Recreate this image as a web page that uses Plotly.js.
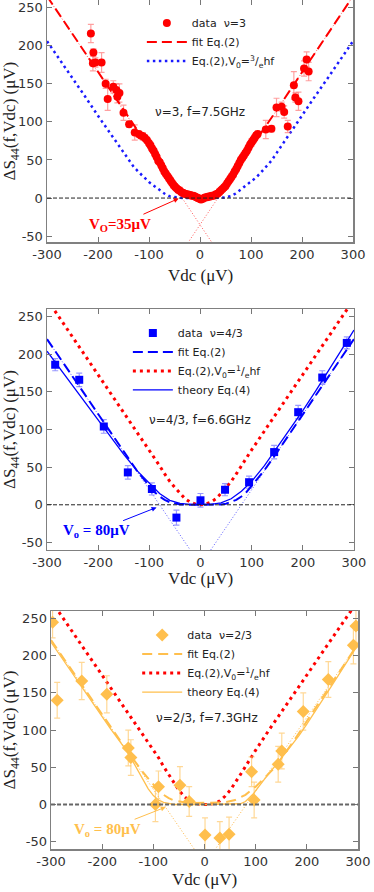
<!DOCTYPE html>
<html>
<head>
<meta charset="utf-8">
<script src="https://cdn.plot.ly/plotly-3.0.1.min.js"></script>
<style>
html, body { margin: 0; padding: 0; background: #fff; }
#chart { width: 374px; height: 892px; }
</style>
</head>
<body>
<div id="chart"></div>
<script>
// ---- panel 1: nu = 3, f = 7.5 GHz ----
var nu3_vdc = [-214,-209,-210,-205,-193,-185,-181,-170,-164,-162,-158,-150,-139,-128,
  -120,-116,-112,-108,-104,-100,
  -97,-94,-91,-88,-85,-82,-79,-76,-73,-70,
  -67,-64,-61,-58,-55,-52,-49,-46,-43,-40,
  -37,-34,-31,-28,-25,-22,-19,-16,-13,-10,
  -7,-4,-1,2,5,8,11,14,17,20,
  23,26,29,32,35,38,41,44,47,50,
  53,56,59,62,65,68,71,74,77,80,
  83,86,89,92,95,98,101,104,107,110,
  113,
  129,140,150,160,165,172,184,187,193,204,209,213];
var nu3_s44 = [216,191,177,178,178,150,130,146,142,133,138,112,97,86,
  84,82,81,79,76,72,
  69,65,62,58,54,49,47,43,39,35,
  32,29,26,23,20,17,15,13,11,10,
  8,7,6,5,5,4,4,3,3,2,
  1,0,-1,-2,-1,0,1,1,2,2,
  3,3,4,5,6,8,10,12,14,16,
  19,22,25,28,31,35,38,42,46,50,
  53,56,59,62,66,70,73,76,79,82,
  84,
  90,91,119,120,113,94,148,132,127,170,182,166];
var nu3_err = [12,5,10,6,13,6,15,8,8,8,12,10,4,10,
  4,4,5,4,4,4,
  4,4,3,4,4,4,3,4,4,4,
  4,3,4,4,3,4,4,3,4,4,
  3,4,3,3,4,3,3,4,3,3,
  3,4,3,3,4,3,3,3,4,3,
  3,4,3,4,3,4,4,3,4,4,
  4,3,4,4,4,3,4,4,4,4,
  4,4,3,4,4,4,5,4,4,4,
  4,
  12,4,12,6,8,8,18,6,12,10,10,12];

var nu3_curve_vdc = [-300,-275,-250,-225,-200,-175,-160,-150,-140,-130,-120,-110,-100,-90,-80,-70,-60,-50,-40,-30,-20,-10,
  0,10,20,30,40,50,60,70,80,90,100,110,120,130,140,150,160,175,200,225,250,275,300];
var nu3_fit = [265,240,215,190,165,140,125,115,105,95,85,75.5,66,56.5,47,37.5,28,20,12,6.5,3,1,
  0,1,3,6.5,12,20,28,37.5,47,56.5,66,75.5,85,95,105,115,125,140,165,190,215,240,265];
var nu3_eq2_hf = [206,182,157,133,108,84,69,59,49,41,34,27,21,16,11,6,2.5,1,0.3,0,0,0,
  0,0,0,0,0.3,1,2.5,6,11,16,21,27,34,41,49,59,69,84,108,133,157,182,206];
var nu3_asym_l_vdc = [-300, 24], nu3_asym_l = [265, -59];
var nu3_asym_r_vdc = [-24, 300], nu3_asym_r = [-59, 265];

// ---- panel 2: nu = 4/3, f = 6.6 GHz ----
var nu43_vdc = [-284,-237,-189,-142,-95,-47,0,48,95,144,191,238,286];
var nu43_s44 = [186,166,104,43,21,-17,6,20,30,70,123,169,215];
var nu43_err = [8,9,9,9,8,10,9,8,8,9,9,9,8];

var nu43_fit_vdc = [-300,-250,-200,-150,-125,-100,-90,-80,-70,-60,-50,-40,-20,0,20,40,50,60,70,80,90,100,125,150,200,250,300];
var nu43_fit = [220,170,120,70,46,25,17,11,6.5,3.5,1.5,0.5,0,0,0,0.5,1.5,3.5,6.5,11,17,25,46,70,120,170,220];
var nu43_theory_vdc = [-300,-250,-200,-150,-125,-100,-80,-60,-40,-20,0,20,40,60,80,100,125,150,175,200,225,250,275,300];
var nu43_theory = [204,158,112,67,46,28,15,6,2,0.5,0,0.5,2.5,8,18,31,52,76,100,125,151,178,205,232];
var nu43_hf_vdc = [-300,-250,-200,-150,-100,-90,-80,-70,-60,-50,-40,-30,-20,-10,0,10,20,30,40,50,60,70,80,90,100,150,200,250,300];
var nu43_eq2_hf = [273,223,173,123,73,63,52,41,31,23,15,8,3.5,1,0,1,3.5,8,15,23,31,41,52,63,73,123,173,223,273];
var nu43_asym_l_vdc = [-300, -20], nu43_asym_l = [220, -60];
var nu43_asym_r_vdc = [20, 300], nu43_asym_r = [-60, 220];

// ---- panel 3: nu = 2/3, f = 7.3 GHz ----
var nu23_vdc = [-297,-288,-240,-191,-149,-144,-96,-90,-48,-30,1,30,48,92,97,144,151,193,242,291,296];
var nu23_s44 = [245,140,166,148,76,63,0,24,26,4,-41,-45,-40,44,6,54,72,125,168,214,240];
var nu23_err = [21,24,25,25,24,24,23,21,25,20,23,22,23,20,24,24,24,25,24,25,22];

var nu23_fit_vdc = [-300,-250,-200,-150,-120,-100,-90,-80,-70,-60,-40,-20,0,20,40,60,80,100,110,135,150,175,200,250,300];
var nu23_fit = [221,171,121,71,43,26,19,13,8.5,5.5,3,2,2,2,3,6,13,24,31,48,62,86,112,164,216];
var nu23_theory_vdc = [-300,-250,-200,-185,-150,-120,-110,-100,-90,-80,-70,-60,0,60,70,80,95,115,140,165,185,200,250,300];
var nu23_theory = [218,168,118,103,70,32,21,12,6,3,1,0,0,0,1,4,14,32,53,75,93,108,161,215];
var nu23_hf_vdc = [-300,-250,-200,-150,-125,-100,-90,-80,-70,-60,-50,-40,-30,-20,-10,0,10,20,30,40,50,60,70,80,90,100,125,150,200,250,300];
var nu23_eq2_hf = [274,224,174,124,99,73,63,51,40,29,19,11,5,1.5,0.3,0,0.3,1.5,5,11,19,29,40,51,63,73,99,124,174,224,274];
var nu23_asym_l_vdc = [-300, -19], nu23_asym_l = [221, -61];
var nu23_asym_r_vdc = [20, 300], nu23_asym_r = [-61, 216];

var tick_vals_x = [-300,-200,-100,0,100,200,300];
var tick_text_x = ['-300','-200','-100','0','100','200','300'];
var tick_vals_y = [-50,0,50,100,150,200,250];
var tick_text_y = ['-50','0','50','100','150','200','250'];

var RED = '#ff0000', BLUE = '#0000ff', ORANGE = '#ffbf4d';

function line(x, y, xa, ya, color, width, dash, name, leg, rank) {
  return {
    x: x, y: y, xaxis: xa, yaxis: ya, mode: 'lines', name: name || '',
    line: { color: color, width: width, dash: dash },
    showlegend: !!name, legend: leg, legendrank: rank || 1000,
    hoverinfo: 'skip'
  };
}
function points(x, y, err, xa, ya, symbol, size, color, errColor, name, leg) {
  return {
    x: x, y: y, xaxis: xa, yaxis: ya, mode: 'markers', name: name,
    marker: { symbol: symbol, size: size, color: color },
    error_y: { type: 'data', array: err, visible: true, color: errColor, thickness: 1.2, width: 3 },
    legend: leg, legendrank: 1
  };
}

var data = [
  // panel 1
  line(nu3_asym_l_vdc, nu3_asym_l, 'x', 'y', 'rgba(255,60,60,0.85)', 1, '1px,2px'),
  line(nu3_asym_r_vdc, nu3_asym_r, 'x', 'y', 'rgba(255,60,60,0.85)', 1, '1px,2px'),
  line(nu3_curve_vdc, nu3_eq2_hf, 'x', 'y', '#1a1aff', 2.5, '2.5px,3.5px',
       'Eq.(2),V<sub>0</sub>=<sup>3</sup>/<sub>e</sub>hf', 'legend', 3),
  points(nu3_vdc, nu3_s44, nu3_err, 'x', 'y', 'circle', 8, RED, 'rgba(255,80,80,0.55)', 'data  ν=3', 'legend'),
  line(nu3_curve_vdc, nu3_fit, 'x', 'y', RED, 2, '10px,5px', 'fit Eq.(2)', 'legend', 2),

  // panel 2
  line(nu43_asym_l_vdc, nu43_asym_l, 'x2', 'y2', 'rgba(60,60,255,0.85)', 1, '1px,2px'),
  line(nu43_asym_r_vdc, nu43_asym_r, 'x2', 'y2', 'rgba(60,60,255,0.85)', 1, '1px,2px'),
  line(nu43_hf_vdc, nu43_eq2_hf, 'x2', 'y2', RED, 3, '3px,4px',
       'Eq.(2),V<sub>0</sub>=<sup>1</sup>/<sub>e</sub>hf', 'legend2', 3),
  points(nu43_vdc, nu43_s44, nu43_err, 'x2', 'y2', 'square', 8, BLUE, 'rgba(70,70,255,0.55)', 'data  ν=4/3', 'legend2'),
  line(nu43_fit_vdc, nu43_fit, 'x2', 'y2', BLUE, 2, '10px,5px', 'fit Eq.(2)', 'legend2', 2),
  line(nu43_theory_vdc, nu43_theory, 'x2', 'y2', BLUE, 1.3, 'solid', 'theory Eq.(4)', 'legend2', 4),

  // panel 3
  line(nu23_asym_l_vdc, nu23_asym_l, 'x3', 'y3', 'rgba(255,180,60,0.95)', 1, '1px,2px'),
  line(nu23_asym_r_vdc, nu23_asym_r, 'x3', 'y3', 'rgba(255,180,60,0.95)', 1, '1px,2px'),
  line(nu23_hf_vdc, nu23_eq2_hf, 'x3', 'y3', RED, 3, '3px,4px',
       'Eq.(2),V<sub>0</sub>=<sup>1</sup>/<sub>e</sub>hf', 'legend3', 3),
  points(nu23_vdc, nu23_s44, nu23_err, 'x3', 'y3', 'diamond', 10, ORANGE, 'rgba(255,190,80,0.6)', 'data  ν=2/3', 'legend3'),
  line(nu23_fit_vdc, nu23_fit, 'x3', 'y3', ORANGE, 2, '10px,6px', 'fit Eq.(2)', 'legend3', 2),
  line(nu23_theory_vdc, nu23_theory, 'x3', 'y3', ORANGE, 1.3, 'solid', 'theory Eq.(4)', 'legend3', 4)
];

var tickFont = { family: 'DejaVu Sans', size: 13, color: '#333' };
var titleFont = { family: 'Liberation Serif', size: 17, color: '#222' };

function xAxis(domain, anchor) {
  return {
    domain: domain, anchor: anchor, range: [-300, 300],
    tickvals: tick_vals_x, ticktext: tick_text_x, tickfont: tickFont,
    ticks: 'inside', ticklen: 5, tickcolor: '#777', mirror: 'ticks',
    showline: true, linecolor: '#808080', linewidth: 1.5,
    showgrid: false, zeroline: false
  };
}
function yAxis(domain, anchor, range) {
  return {
    domain: domain, anchor: anchor, range: range,
    tickvals: tick_vals_y, ticktext: tick_text_y, tickfont: tickFont,
    ticks: 'inside', ticklen: 5, tickcolor: '#777', mirror: 'ticks',
    showline: true, linecolor: '#808080', linewidth: 1.5,
    showgrid: false, zeroline: false,
    title: { text: 'ΔS<sub>44</sub>(f,Vdc) (μV)', font: titleFont, standoff: 4 }
  };
}
function legendBox(x, y) {
  return {
    x: x, y: y, xanchor: 'left', yanchor: 'top', xref: 'paper', yref: 'paper',
    bgcolor: 'rgba(0,0,0,0)', itemwidth: 40, tracegroupgap: 0,
    font: { family: 'DejaVu Sans', size: 11, color: '#222' }
  };
}
function zeroLine(xa, ya, color, width) {
  return { type: 'line', xref: xa + ' domain', x0: 0, x1: 1, yref: ya, y0: 0, y1: 0,
           line: { color: color, width: width, dash: '4px,2px' } };
}
function label(xa, ya, x, y, text) {
  return { xref: xa, yref: ya, x: x, y: y, text: text, showarrow: false,
           font: { family: 'DejaVu Sans', size: 12, color: '#222' } };
}
function xTitle(x, y, anchor) {
  return { xref: 'paper', yref: 'paper', x: x, y: y, text: 'Vdc (μV)', showarrow: false,
           xanchor: 'center', yanchor: anchor || 'middle', font: titleFont };
}
function v0Label(xa, ya, hx, hy, tx, ty, text, color) {
  return { xref: xa, yref: ya, axref: xa, ayref: ya, x: hx, y: hy, ax: tx, ay: ty,
           text: text, showarrow: true, arrowhead: 2, arrowsize: 1,
           arrowwidth: 1, arrowcolor: color, standoff: 1,
           font: { family: 'Liberation Serif', size: 15, color: color, weight: 'bold' } };
}

var layout = {
  width: 374, height: 892,
  margin: { l: 47, r: 16, t: 0, b: 36 },
  paper_bgcolor: '#fff', plot_bgcolor: '#fff',
  xaxis: xAxis([0, 0.984], 'y'),
  yaxis: yAxis([0.717, 1], 'x', [-58, 260]),
  xaxis2: xAxis([0, 0.987], 'y2'),
  yaxis2: yAxis([0.3575, 0.639], 'x2', [-60, 260]),
  xaxis3: xAxis([0.013, 1], 'y3'),
  yaxis3: yAxis([0.008, 0.2862], 'x3', [-60, 260]),
  legend: legendBox(0.305, 0.99),
  legend2: legendBox(0.26, 0.628),
  legend3: legendBox(0.29, 0.275),
  shapes: [
    zeroLine('x', 'y', '#222', 1),
    zeroLine('x2', 'y2', '#222', 1),
    zeroLine('x3', 'y3', '#666', 2)
  ],
  annotations: [
    label('x', 'y', 0, 113, 'ν=3, f=7.5GHz'),
    label('x2', 'y2', 0, 113, 'ν=4/3, f=6.6GHz'),
    label('x3', 'y3', 5, 116, 'ν=2/3, f=7.3GHz'),
    xTitle(0.4936, 0.6787),
    xTitle(0.4936, 0.3245),
    xTitle(0.506, -0.0409, 'bottom'),
    v0Label('x', 'y', -40, 0, -157, -35, 'V<sub>O</sub>=35μV', RED),
    v0Label('x2', 'y2', -84, -3, -203, -35, 'V<sub>o</sub> = 80μV', BLUE),
    v0Label('x3', 'y3', -74, -3, -189, -34, 'V<sub>o</sub> = 80μV', ORANGE)
  ]
};

Plotly.newPlot('chart', data, layout, { displayModeBar: false, staticPlot: true });
</script>
</body>
</html>
